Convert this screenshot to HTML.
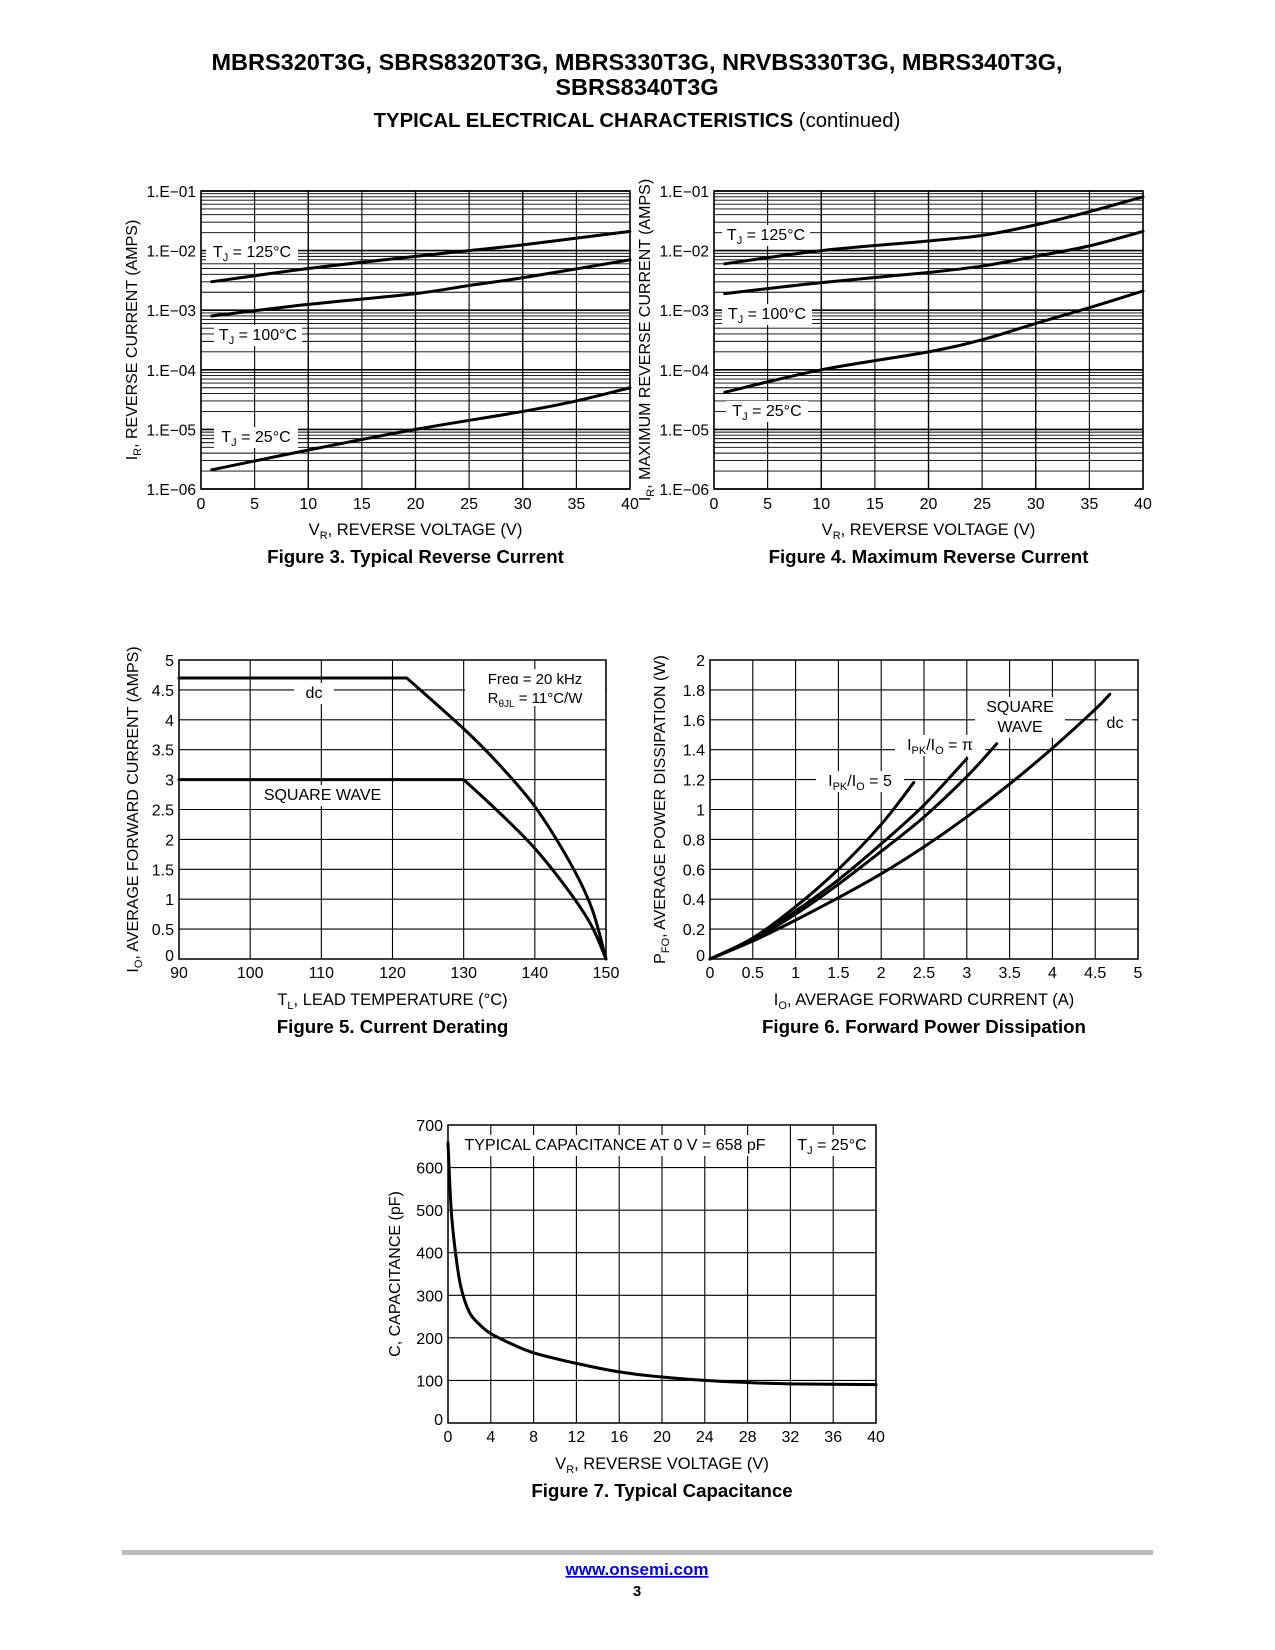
<!DOCTYPE html>
<html><head><meta charset="utf-8"><style>
body{margin:0;background:#fff;}
svg{display:block;font-family:"Liberation Sans",Arial,sans-serif;}
</style></head><body>
<svg id="pg" width="1275" height="1650" viewBox="0 0 1275 1650" xmlns="http://www.w3.org/2000/svg">
<text x="637" y="70" text-anchor="middle" font-size="23.5" font-weight="bold">MBRS320T3G, SBRS8320T3G, MBRS330T3G, NRVBS330T3G, MBRS340T3G,</text>
<text x="637" y="95" text-anchor="middle" font-size="23.5" font-weight="bold">SBRS8340T3G</text>
<text x="637" y="127" text-anchor="middle" font-size="20.3"><tspan font-weight="bold">TYPICAL ELECTRICAL CHARACTERISTICS</tspan> (continued)</text>
<g id="charts"></g>
<rect x="122" y="1550" width="1031" height="5" fill="#bbb"/>
<text x="637" y="1575" text-anchor="middle" font-size="17" font-weight="bold" fill="#0000ee" text-decoration="underline">www.onsemi.com</text>
<text x="637" y="1596" text-anchor="middle" font-size="15" font-weight="bold">3</text>
</svg>
<script>
// ---- data ----
const fig3Volts=[1,10,20,25,30,40];
const fig3T125=[3e-3,5e-3,8e-3,1e-2,1.25e-2,2.1e-2];
const fig3T100=[8e-4,1.25e-3,1.9e-3,2.6e-3,3.5e-3,7e-3];
const fig3Volts25=[1,10,20,30,35,40];
const fig3T25=[2.1e-6,4.5e-6,1e-5,2e-5,3e-5,5e-5];
const fig4Volts=[1,10,20,25,30,35,40];
const fig4T125=[6e-3,1e-2,1.45e-2,1.8e-2,2.7e-2,4.5e-2,8e-2];
const fig4T100=[1.9e-3,2.9e-3,4.3e-3,5.5e-3,8e-3,1.2e-2,2.1e-2];
const fig4T25=[4.2e-5,1e-4,2e-4,3.2e-4,6e-4,1.1e-3,2.1e-3];
const logTickLabels=["1.E−06","1.E−05","1.E−04","1.E−03","1.E−02","1.E−01"];
const fig5DcTemp=[90,122,130,135,140,145,148,150];
const fig5DcCur=[4.7,4.7,3.85,3.25,2.55,1.6,0.85,0];
const fig5SqTemp=[90,130,135,140,145,148,150];
const fig5SqCur=[3,3,2.45,1.85,1.1,0.55,0];
const fig6Dc=[[0,0],[0.5,0.12],[1,0.26],[1.5,0.41],[2,0.57],[2.5,0.75],[3,0.95],[3.5,1.17],[4,1.41],[4.5,1.67],[4.67,1.77]];
const fig6Sq=[[0,0],[0.5,0.13],[1,0.3],[1.5,0.5],[2,0.72],[2.5,0.95],[3,1.22],[3.35,1.44]];
const fig6Pi=[[0,0],[0.5,0.13],[1,0.32],[1.5,0.53],[2,0.77],[2.5,1.03],[3,1.34]];
const fig6Five=[[0,0],[0.5,0.14],[1,0.35],[1.5,0.6],[2,0.9],[2.38,1.18]];
const fig7Volts=[0,0.3,0.7,1.2,2,3,4,6,8,12,16,20,24,28,32,40];
const fig7Cap=[658,500,400,320,260,230,210,185,165,140,120,108,100,95,92,90];

const NS="http://www.w3.org/2000/svg";
const root=document.getElementById('charts');
function el(tag,attrs,parent,txt){const e=document.createElementNS(NS,tag);for(const k in attrs)e.setAttribute(k,attrs[k]);if(txt!==undefined)e.textContent=txt;(parent||root).appendChild(e);return e;}
function smoothPath(pts){let d='M'+pts[0][0]+','+pts[0][1];for(let i=0;i<pts.length-1;i++){const p0=pts[i-1]||pts[i],p1=pts[i],p2=pts[i+1],p3=pts[i+2]||p2;const c1x=p1[0]+(p2[0]-p0[0])/6,c1y=p1[1]+(p2[1]-p0[1])/6,c2x=p2[0]-(p3[0]-p1[0])/6,c2y=p2[1]-(p3[1]-p1[1])/6;d+=' C'+c1x+','+c1y+' '+c2x+','+c2y+' '+p2[0]+','+p2[1];}return d;}
function curve(g,pts,name){const p=el('path',{d:smoothPath(pts),fill:'none',stroke:'#000','stroke-width':3,'stroke-linecap':'round'},g);}
function kneeCurve(g,pts,name){const d='M'+pts[0][0]+','+pts[0][1]+' L'+pts[1][0]+','+pts[1][1]+' '+smoothPath(pts.slice(1)).replace(/^M[^ ]+/,'');const p=el('path',{d:d,fill:'none',stroke:'#000','stroke-width':3,'stroke-linecap':'round','stroke-linejoin':'round'},g);}
function label(g,x,y,w,txt,name,fs){const r=el('rect',{x:x,y:y-15,width:w,height:21,fill:'#fff'},g);const t=el('text',{x:x+w/2,y:y,'text-anchor':'middle','font-size':fs||16},g);t.innerHTML=txt;}
function txt(g,x,y,s,anchor,fs,name,extra){const t=el('text',Object.assign({x:x,y:y,'text-anchor':anchor,'font-size':fs},extra||{}),g);t.innerHTML=s;return t;}

function logChart(id,L,R,T,B,curves,labels,ytitle,caption){
  const g=el('g',{});
  const xs=v=>L+(v/40)*(R-L);
  const ys=v=>B-(Math.log10(v)+6)/5*(B-T);
  for(let d=-6;d<-1;d++)for(let m=2;m<=9;m++){const y=ys(m*Math.pow(10,d));const l=el('line',{x1:L,x2:R,y1:y,y2:y,stroke:'#000','stroke-width':0.9},g);}
  for(let d=-6;d<=-1;d++){const y=ys(Math.pow(10,d));const l=el('line',{x1:L,x2:R,y1:y,y2:y,stroke:'#000','stroke-width':1.6},g);
    txt(g,L-5,y+6,logTickLabels[d+6],'end',15.5,'y-tick-label');}
  for(let v=0;v<=40;v+=5){const x=xs(v);const l=el('line',{x1:x,x2:x,y1:T,y2:B,stroke:'#000','stroke-width':v%10==0&&v>0&&v<40?1.4:1.1},g);
    txt(g,x,B+20,String(v),'middle',16,'x-tick-label');}
  el('rect',{x:L,y:T,width:R-L,height:B-T,fill:'none',stroke:'#000','stroke-width':1.6},g);
  labels.forEach(lb=>label(g,lb[0],lb[1],lb[2],lb[3],lb[4]));
  curves.forEach(c=>curve(g,c[0].map((v,i)=>[xs(v),ys(c[1][i])]),c[2]));
  txt(g,(L+R)/2,B+46,'V<tspan font-size="11" dy="4">R</tspan><tspan dy="-4">, REVERSE VOLTAGE (V)</tspan>','middle',16.5,'x-axis-title');
  txt(g,0,0,ytitle,'middle',16,'y-axis-title',{transform:'translate('+(L-64)+','+((T+B)/2)+') rotate(-90)'});
  txt(g,(L+R)/2,B+74,caption,'middle',18.7,'figure-caption',{'font-weight':'bold'});
}
logChart('figure-3-chart',201,630,191,489,
 [[fig3Volts,fig3T125,'curve-125c'],[fig3Volts,fig3T100,'curve-100c'],[fig3Volts25,fig3T25,'curve-25c']],
 [[206,257,92,'T<tspan font-size="11" dy="4">J</tspan><tspan dy="-4"> = 125°C</tspan>','label-125c'],[214,340,88,'T<tspan font-size="11" dy="4">J</tspan><tspan dy="-4"> = 100°C</tspan>','label-100c'],[214,442,84,'T<tspan font-size="11" dy="4">J</tspan><tspan dy="-4"> = 25°C</tspan>','label-25c']],
 'I<tspan font-size="11" dy="4">R</tspan><tspan dy="-4">, REVERSE CURRENT (AMPS)</tspan>','Figure 3. Typical Reverse Current');
logChart('figure-4-chart',714,1143,191,489,
 [[fig4Volts,fig4T125,'curve-125c'],[fig4Volts,fig4T100,'curve-100c'],[fig4Volts,fig4T25,'curve-25c']],
 [[722,240,88,'T<tspan font-size="11" dy="4">J</tspan><tspan dy="-4"> = 125°C</tspan>','label-125c'],[722,319,90,'T<tspan font-size="11" dy="4">J</tspan><tspan dy="-4"> = 100°C</tspan>','label-100c'],[726,416,82,'T<tspan font-size="11" dy="4">J</tspan><tspan dy="-4"> = 25°C</tspan>','label-25c']],
 'I<tspan font-size="11" dy="4">R</tspan><tspan dy="-4">, MAXIMUM REVERSE CURRENT (AMPS)</tspan>','Figure 4. Maximum Reverse Current');

function linChart(id,L,R,T,B,x0,x1,xstep,y0,y1,ystep,xdec,ydec){
  const g=el('g',{});
  const xs=v=>L+(v-x0)/(x1-x0)*(R-L), ys=v=>B-(v-y0)/(y1-y0)*(B-T);
  const nx=Math.round((x1-x0)/xstep), ny=Math.round((y1-y0)/ystep);
  for(let i=0;i<=ny;i++){const v=y0+i*ystep,y=ys(v);const l=el('line',{x1:L,x2:R,y1:y,y2:y,stroke:'#000','stroke-width':1.1},g);
    txt(g,L-5,y+(i==0?2:6),(+v.toFixed(ydec)).toString(),'end',16,'y-tick-label');}
  for(let i=0;i<=nx;i++){const v=x0+i*xstep,x=xs(v);const l=el('line',{x1:x,x2:x,y1:T,y2:B,stroke:'#000','stroke-width':1.1},g);
    txt(g,x,B+19,(+v.toFixed(xdec)).toString(),'middle',16,'x-tick-label');}
  el('rect',{x:L,y:T,width:R-L,height:B-T,fill:'none',stroke:'#000','stroke-width':1.5},g);
  return {g,xs,ys};
}
(function(){const L=179,R=606,T=660,B=959;const c=linChart('figure-5-chart',L,R,T,B,90,150,10,0,5,0.5,0,1);const g=c.g;
 label(g,465,684,140,'Freq = 20 kHz','label-freq',15);
 const t=el('rect',{x:465,y:684,width:140,height:22,fill:'#fff'},g);
 txt(g,535,703,'R<tspan font-size="10" dy="4">θJL</tspan><tspan dy="-4"> = 11°C/W</tspan>','middle',15,'label-rth');
 label(g,294,698,40,'dc','label-dc');
 label(g,255,800,135,'SQUARE WAVE','label-square-wave');
 kneeCurve(g,fig5DcTemp.map((v,i)=>[c.xs(v),c.ys(fig5DcCur[i])]),'curve-dc');
 kneeCurve(g,fig5SqTemp.map((v,i)=>[c.xs(v),c.ys(fig5SqCur[i])]),'curve-square-wave');
 txt(g,(L+R)/2,B+46,'T<tspan font-size="11" dy="4">L</tspan><tspan dy="-4">, LEAD TEMPERATURE (°C)</tspan>','middle',16.5,'x-axis-title');
 txt(g,0,0,'I<tspan font-size="11" dy="4">O</tspan><tspan dy="-4">, AVERAGE FORWARD CURRENT (AMPS)</tspan>','middle',16,'y-axis-title',{transform:'translate(138,'+((T+B)/2)+') rotate(-90)'});
 txt(g,(L+R)/2,B+74,'Figure 5. Current Derating','middle',18.7,'figure-caption',{'font-weight':'bold'});
})();
(function(){const L=710,R=1138,T=660,B=959;const c=linChart('figure-6-chart',L,R,T,B,0,5,0.5,0,2,0.2,1,1);const g=c.g;
 label(g,975,712,90,'SQUARE','label-square');
 label(g,975,732,90,'WAVE','label-wave');
 label(g,1098,728,34,'dc','label-dc');
 label(g,895,750,90,'I<tspan font-size="11" dy="4">PK</tspan><tspan dy="-4">/I</tspan><tspan font-size="11" dy="4">O</tspan><tspan dy="-4"> = π</tspan>','label-pi');
 label(g,816,786,88,'I<tspan font-size="11" dy="4">PK</tspan><tspan dy="-4">/I</tspan><tspan font-size="11" dy="4">O</tspan><tspan dy="-4"> = 5</tspan>','label-five');
 [[fig6Dc,'curve-dc'],[fig6Sq,'curve-square-wave'],[fig6Pi,'curve-ipk-pi'],[fig6Five,'curve-ipk-5']].forEach(s=>curve(g,s[0].map(p=>[c.xs(p[0]),c.ys(p[1])]),s[1]));
 txt(g,(L+R)/2,B+46,'I<tspan font-size="11" dy="4">O</tspan><tspan dy="-4">, AVERAGE FORWARD CURRENT (A)</tspan>','middle',16.5,'x-axis-title');
 txt(g,0,0,'P<tspan font-size="11" dy="4">FO</tspan><tspan dy="-4">, AVERAGE POWER DISSIPATION (W)</tspan>','middle',16,'y-axis-title',{transform:'translate(665,'+((T+B)/2)+') rotate(-90)'});
 txt(g,(L+R)/2,B+74,'Figure 6. Forward Power Dissipation','middle',18.7,'figure-caption',{'font-weight':'bold'});
})();
(function(){const L=448,R=876,T=1125,B=1423;const c=linChart('figure-7-chart',L,R,T,B,0,40,4,0,700,100,0,0);const g=c.g;
 label(g,456,1150,318,'TYPICAL CAPACITANCE AT 0 V = 658 pF','label-typical-capacitance');
 label(g,791,1150,82,'T<tspan font-size="11" dy="4">J</tspan><tspan dy="-4"> = 25°C</tspan>','label-tj');
 curve(g,fig7Volts.map((v,i)=>[c.xs(v),c.ys(fig7Cap[i])]),'curve-capacitance');
 txt(g,(L+R)/2,B+46,'V<tspan font-size="11" dy="4">R</tspan><tspan dy="-4">, REVERSE VOLTAGE (V)</tspan>','middle',16.5,'x-axis-title');
 txt(g,0,0,'C, CAPACITANCE (pF)','middle',16,'y-axis-title',{transform:'translate(400,'+((T+B)/2)+') rotate(-90)'});
 txt(g,(L+R)/2,B+74,'Figure 7. Typical Capacitance','middle',18.7,'figure-caption',{'font-weight':'bold'});
})();
</script>
</body></html>
